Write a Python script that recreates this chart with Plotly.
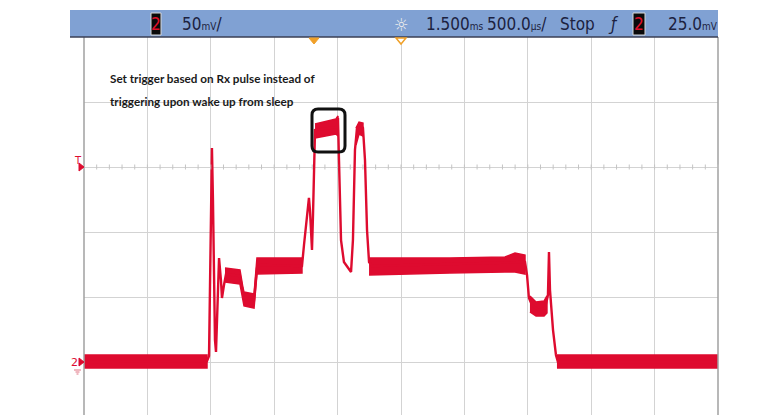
import plotly.graph_objects as go

W, H = 766, 415

# ---------------- data (time in ms, voltage in mV) ----------------
# centre path of the captured trace (transitions, spikes, ringing)
trace_t = [0.000, 0.970, 0.986, 1.002, 1.009, 1.017, 1.033, 1.041, 1.057, 1.065,
           1.080, 1.088, 1.104, 1.120, 1.230, 1.262, 1.341, 1.364, 1.388, 1.719,
           1.735, 1.751, 1.767, 1.774, 1.782, 1.790, 1.798, 1.806, 1.814, 1.822,
           1.995, 2.003, 2.011, 2.027,
           2.050, 2.082, 2.106, 2.121, 2.137, 2.153, 2.177, 2.200, 2.216, 2.232,
           2.248, 2.271, 3.478, 3.494, 3.509, 3.533, 3.580, 3.636, 3.659, 3.667,
           3.675, 3.699, 3.722, 3.738, 5.000]
trace_mv = [0.0, 0.8, 4.6, 124.6, 164.6, 124.6, 16.9, 7.7, 47.7, 80.0,
            63.1, 49.2, 59.2, 67.7, 66.2, 49.2, 47.7, 72.3, 74.6, 73.8,
            90.0, 105.4, 122.3, 126.2, 116.9, 97.7, 86.2, 113.1, 155.4, 178.5,
            180.8, 187.7, 155.4, 93.8,
            76.9, 72.3, 69.2, 93.8, 163.1, 180.0, 183.1, 180.0, 155.4, 101.5,
            76.9, 73.8, 76.9, 66.9, 49.2, 43.8, 40.0, 41.5, 51.5, 84.6,
            55.4, 24.6, 5.4, 0.0, 0.0]

# noise envelopes of the trace (upper / lower), per segment
idle_left_t = [0.000, 0.970]
idle_left_hi = [5.4, 5.4]
idle_left_lo = [-4.6, -4.6]

wake_t = [1.112, 1.230, 1.254, 1.262, 1.341, 1.356, 1.364, 1.719]
wake_hi = [72.3, 70.8, 56.9, 53.8, 52.3, 70.8, 80.0, 80.0]
wake_lo = [61.5, 60.0, 47.7, 43.1, 41.5, 55.4, 67.7, 68.5]

rx_t = [1.822, 1.987, 2.003]
rx_hi = [183.1, 186.9, 189.2]
rx_lo = [172.3, 175.4, 173.8]

tx_t = [2.145, 2.169, 2.200]
tx_hi = [180.0, 184.6, 183.8]
tx_lo = [166.9, 175.4, 173.8]

proc_t = [2.248, 2.886, 3.320, 3.399, 3.478]
proc_hi = [80.0, 80.0, 80.8, 83.8, 82.3]
proc_lo = [66.9, 68.5, 69.2, 69.2, 67.7]

dip_t = [3.517, 3.565, 3.628, 3.651]
dip_hi = [50.8, 46.2, 46.9, 50.8]
dip_lo = [38.5, 35.4, 35.4, 37.7]

idle_right_t = [3.730, 5.000]
idle_right_hi = [5.4, 5.4]
idle_right_lo = [-4.6, -4.6]

# status bar texts
ch_label = "2"
vscale_num, vscale_unit = "50", "mV"
hpos_num, hpos_unit = "1.500", "ms"
hscale_num, hscale_unit = "500.0", "µs"
run_state = "Stop"
trig_level_num, trig_level_unit = "25.0", "mV"
note_lines = ["Set trigger based on Rx pulse instead of",
              "triggering upon wake up from sleep"]

# ---------------- styling / layout helpers ----------------
RED = "#DE0B2F"
GRID = "#D3D3D3"
X0, X1 = 84, 718          # plot area, px
Y_TOP = 37


def px(x):
    return x / W


def py(y):
    return 1 - y / H


fig = go.Figure()

segments = [(idle_left_t, idle_left_hi, idle_left_lo),
            (wake_t, wake_hi, wake_lo),
            (rx_t, rx_hi, rx_lo),
            (tx_t, tx_hi, tx_lo),
            (proc_t, proc_hi, proc_lo),
            (dip_t, dip_hi, dip_lo),
            (idle_right_t, idle_right_hi, idle_right_lo)]
for t, hi, lo in segments:
    fig.add_trace(go.Scatter(x=t + t[::-1], y=hi + lo[::-1], fill="toself",
                             fillcolor=RED, mode="lines",
                             line=dict(color=RED, width=1.5),
                             hoverinfo="skip", showlegend=False))

fig.add_trace(go.Scatter(x=trace_t, y=trace_mv, mode="lines",
                         line=dict(color=RED, width=2.4),
                         showlegend=False))

# y range: 50 mV/div, ground at 362 px, top at 37 px, bottom at 415 px
mv_per_px = 50 / 65.0
y_top = (362 - Y_TOP) * mv_per_px
y_bot = (362 - H) * mv_per_px

fig.update_layout(
    width=W, height=H,
    margin=dict(l=0, r=0, t=0, b=0),
    paper_bgcolor="white", plot_bgcolor="white",
    xaxis=dict(domain=[px(X0), px(X1)], range=[0, 5], dtick=0.5, tick0=0,
               showgrid=True, gridcolor=GRID, gridwidth=1.4,
               showticklabels=False, zeroline=False, showline=False,
               ticks=""),
    yaxis=dict(domain=[0, py(Y_TOP)], range=[y_bot, y_top], dtick=50, tick0=0,
               showgrid=True, gridcolor=GRID, gridwidth=1.4,
               showticklabels=False, zeroline=False, showline=False,
               ticks=""),
)

shapes = []
# frame borders
for xb in (X0, X1):
    shapes.append(dict(type="line", xref="paper", yref="paper",
                       x0=px(xb), x1=px(xb), y0=py(Y_TOP), y1=0,
                       line=dict(color="#A0A0A0", width=1.5)))
# minor ticks on trigger-level line (y=167)
k = 0
while True:
    xt = X0 + k * 63.4 / 5
    if xt > X1:
        break
    shapes.append(dict(type="line", xref="paper", yref="paper",
                       x0=px(xt), x1=px(xt), y0=py(164.5), y1=py(169.5),
                       line=dict(color="#C4C4C4", width=1)))
    k += 1

# status bar
shapes.append(dict(type="rect", xref="paper", yref="paper",
                   x0=px(70), x1=px(718), y0=py(10), y1=py(37),
                   fillcolor="#80A1D3", line=dict(width=0)))
shapes.append(dict(type="line", xref="paper", yref="paper",
                   x0=px(70), x1=px(718), y0=py(37), y1=py(37),
                   line=dict(color="#3A3F55", width=1.5)))
for bx0, bx1 in ((151, 161), (633, 645)):
    shapes.append(dict(type="rect", xref="paper", yref="paper",
                       x0=px(bx0), x1=px(bx1), y0=py(13), y1=py(35),
                       fillcolor="#0A0A0A", line=dict(color="#D8D8D8", width=1)))

# orange time markers
shapes.append(dict(type="path", xref="paper", yref="paper",
                   path=f"M {px(309)} {py(38)} L {px(319)} {py(38)} L {px(314)} {py(44)} Z",
                   fillcolor="#F0A028", line=dict(color="#F0A028", width=1)))
shapes.append(dict(type="path", xref="paper", yref="paper",
                   path=f"M {px(396)} {py(38)} L {px(406)} {py(38)} L {px(401)} {py(44)} Z",
                   fillcolor="white", line=dict(color="#F0A028", width=1.5)))

# channel / trigger markers on left edge
for yc in (167, 362):
    shapes.append(dict(type="path", xref="paper", yref="paper",
                       path=f"M {px(79)} {py(yc-4)} L {px(84)} {py(yc)} L {px(79)} {py(yc+4)} Z",
                       fillcolor=RED, line=dict(color=RED, width=1)))
# ground symbol
for (gx0, gx1, gy) in ((74, 81, 370), (75.5, 79.5, 372), (76.5, 78.5, 374)):
    shapes.append(dict(type="line", xref="paper", yref="paper",
                       x0=px(gx0), x1=px(gx1), y0=py(gy), y1=py(gy),
                       line=dict(color="#E07080", width=1)))

# highlight box around Rx pulse
r = 6
bx0, bx1, by0, by1 = 312, 345, 109, 152
path = (f"M {px(bx0+r)} {py(by0)} L {px(bx1-r)} {py(by0)} "
        f"Q {px(bx1)} {py(by0)} {px(bx1)} {py(by0+r)} "
        f"L {px(bx1)} {py(by1-r)} Q {px(bx1)} {py(by1)} {px(bx1-r)} {py(by1)} "
        f"L {px(bx0+r)} {py(by1)} Q {px(bx0)} {py(by1)} {px(bx0)} {py(by1-r)} "
        f"L {px(bx0)} {py(by0+r)} Q {px(bx0)} {py(by0)} {px(bx0+r)} {py(by0)} Z")
shapes.append(dict(type="path", xref="paper", yref="paper", path=path,
                   line=dict(color="#111111", width=3)))

fig.update_layout(shapes=shapes)

ann = []
BAR_FONT = "Liberation Sans Narrow, DejaVu Sans Condensed, Arial Narrow, sans-serif"
BAR_COL = "#1C2240"


def bar_text(x, text, color=BAR_COL, size=17, xanchor="left"):
    ann.append(dict(xref="paper", yref="paper", x=px(x), y=py(24), text=text,
                    showarrow=False, xanchor=xanchor, yanchor="middle",
                    font=dict(family=BAR_FONT, size=size, color=color)))


def unit(u):
    return f"<span style='font-size:10px'>{u}</span>"


bar_text(156, ch_label, color="#E0102A", size=17, xanchor="center")
bar_text(180, vscale_num + unit(vscale_unit) + "/")
bar_text(402, "☼", color="#ECECEC", size=18, xanchor="center")
bar_text(424, hpos_num + unit(hpos_unit))
bar_text(485, hscale_num + unit(hscale_unit) + "/")
bar_text(558, run_state)
bar_text(613, "<i>ƒ</i>", xanchor="center")
bar_text(639, ch_label, color="#E0102A", size=17, xanchor="center")
bar_text(666, trig_level_num + unit(trig_level_unit))

# left-edge marker labels
ann.append(dict(xref="paper", yref="paper", x=px(78), y=py(160), text="T",
                showarrow=False, xanchor="center", yanchor="middle",
                font=dict(family="DejaVu Sans", size=10, color=RED)))
ann.append(dict(xref="paper", yref="paper", x=px(74), y=py(362), text="2",
                showarrow=False, xanchor="center", yanchor="middle",
                font=dict(family="DejaVu Sans", size=11, color=RED)))

# note text
for i, line in enumerate(note_lines):
    ann.append(dict(xref="paper", yref="paper", x=px(108), y=py(78 + 23 * i),
                    text=f"<b>{line}</b>", showarrow=False,
                    xanchor="left", yanchor="middle",
                    font=dict(family="Lato, Open Sans, sans-serif", size=11.7,
                              color="#1A1A1A")))

fig.update_layout(annotations=ann)

fig.write_html("out.html")
